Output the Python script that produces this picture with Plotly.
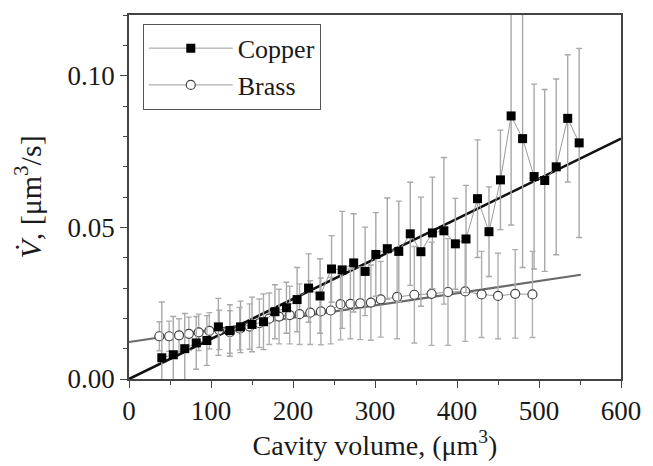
import plotly.graph_objects as go

# ---- data ----
copper_x = [40, 54, 68, 82, 95, 109, 123, 136, 150, 164, 178, 192, 205, 219, 233, 247,
            260, 274, 288, 301, 315, 329, 343, 356, 370, 384, 398, 411, 425, 439, 453,
            466, 480, 494, 507, 521, 535, 549]
copper_y = [0.0070, 0.0080, 0.0100, 0.0119, 0.0127, 0.0172, 0.0160, 0.0172, 0.0180, 0.0189,
            0.0222, 0.0235, 0.0262, 0.0300, 0.0274, 0.0363, 0.0360, 0.0383, 0.0355, 0.0411,
            0.0430, 0.0421, 0.0479, 0.0420, 0.0482, 0.0489, 0.0446, 0.0462, 0.0595, 0.0486,
            0.0657, 0.0868, 0.0793, 0.0668, 0.0655, 0.0700, 0.0860, 0.0779]
copper_err = [0.0184, 0.0126, 0.0116, 0.0087, 0.0082, 0.0094, 0.0085, 0.0085, 0.0090, 0.0092,
              0.0089, 0.0084, 0.0106, 0.0113, 0.0123, 0.0110, 0.0193, 0.0162, 0.0146, 0.0138,
              0.0167, 0.0166, 0.0170, 0.0180, 0.0184, 0.0242, 0.0150, 0.0177, 0.0194, 0.0148,
              0.0164, 0.0360, 0.0425, 0.0305, 0.0300, 0.0290, 0.0210, 0.0312]

brass_x = [37, 49, 61, 73, 85, 98, 110, 123, 135, 147, 159, 171, 183, 196, 208, 221, 234,
           246, 258, 270, 282, 295, 307, 327, 348, 369, 389, 410, 430, 450, 471, 492]
brass_y = [0.0141, 0.0141, 0.0144, 0.0149, 0.0154, 0.0159, 0.0162, 0.0155, 0.0166, 0.0173,
           0.0184, 0.0199, 0.0206, 0.0211, 0.0214, 0.0219, 0.0223, 0.0226, 0.0247, 0.0248,
           0.0250, 0.0252, 0.0263, 0.0271, 0.0278, 0.0281, 0.0287, 0.0289, 0.0279, 0.0274,
           0.0281, 0.0279]
brass_err = [0.0048, 0.0050, 0.0055, 0.0055, 0.0060, 0.0060, 0.0065, 0.0070, 0.0070, 0.0075,
             0.0080, 0.0085, 0.0090, 0.0095, 0.0100, 0.0105, 0.0110, 0.0110, 0.0118, 0.0115,
             0.0120, 0.0124, 0.0125, 0.0138, 0.0159, 0.0170, 0.0176, 0.0165, 0.0142, 0.0141,
             0.0146, 0.0142]

copper_fit_x = [0, 600]
copper_fit_y = [0.0, 0.0793]
brass_fit_x = [0, 551]
brass_fit_y = [0.0122, 0.0344]

x_ticks = [0, 100, 200, 300, 400, 500, 600]
y_ticks = [0.00, 0.05, 0.10]

FONT = "Liberation Serif"

fig = go.Figure()

fig.add_trace(go.Scatter(x=copper_fit_x, y=copper_fit_y, mode="lines",
                         line=dict(color="#111111", width=2.6), showlegend=False,
                         hoverinfo="skip"))
fig.add_trace(go.Scatter(x=brass_fit_x, y=brass_fit_y, mode="lines",
                         line=dict(color="#6a6a6a", width=2.2), showlegend=False,
                         hoverinfo="skip"))

fig.add_trace(go.Scatter(
    x=brass_x, y=brass_y, name="Brass", mode="lines+markers",
    line=dict(color="#9a9a9a", width=1),
    marker=dict(symbol="circle", size=9, color="white",
                line=dict(color="#444444", width=1.2)),
    error_y=dict(type="data", array=brass_err, visible=True,
                 color="#b0b0b0", thickness=1.4, width=3),
))
fig.add_trace(go.Scatter(
    x=copper_x, y=copper_y, name="Copper", mode="lines+markers",
    line=dict(color="#9a9a9a", width=1),
    marker=dict(symbol="square", size=9, color="black",
                line=dict(color="black", width=0)),
    error_y=dict(type="data", array=copper_err, visible=True,
                 color="#a8a8a8", thickness=1.4, width=3),
))

fig.update_layout(
    width=653, height=466,
    margin=dict(l=129, r=24, t=15, b=81),
    paper_bgcolor="white", plot_bgcolor="white",
    font=dict(family=FONT, size=27, color="#1a1a1a"),
    legend=dict(x=0.028, y=0.976, xanchor="left", yanchor="top",
                bordercolor="#555555", borderwidth=1, bgcolor="white",
                font=dict(family=FONT, size=26, color="#1a1a1a"),
                traceorder="reversed", itemwidth=84,
                tracegroupgap=0),
    showlegend=True,
)

fig.update_xaxes(
    range=[0, 600], tickvals=x_ticks, ticktext=[str(v) for v in x_ticks],
    showline=True, linecolor="#444444", linewidth=1.5, mirror=True,
    ticks="outside", ticklen=7, tickwidth=1.2, tickcolor="#444444",
    minor=dict(ticks="outside", ticklen=4, dtick=50, tick0=0, tickcolor="#444444", tickwidth=1.2),
    showgrid=False, zeroline=False,
    tickfont=dict(family=FONT, size=27),
    title=dict(text="Cavity volume, (μm<sup>3</sup>)", font=dict(family=FONT, size=28), standoff=8),
)
fig.update_yaxes(
    range=[0, 0.1201], tickvals=y_ticks, ticktext=["%.2f" % v for v in y_ticks],
    showline=True, linecolor="#444444", linewidth=1.5, mirror=True,
    ticks="outside", ticklen=7, tickwidth=1.2, tickcolor="#444444",
    minor=dict(ticks="outside", ticklen=4, dtick=0.01, tick0=0, tickcolor="#444444", tickwidth=1.2),
    showgrid=False, zeroline=False,
    tickfont=dict(family=FONT, size=27),
    title=dict(text="<i>V̇</i>, [μm<sup>3</sup>/s]", font=dict(family=FONT, size=30), standoff=17),
)

fig.write_html("out.html")
